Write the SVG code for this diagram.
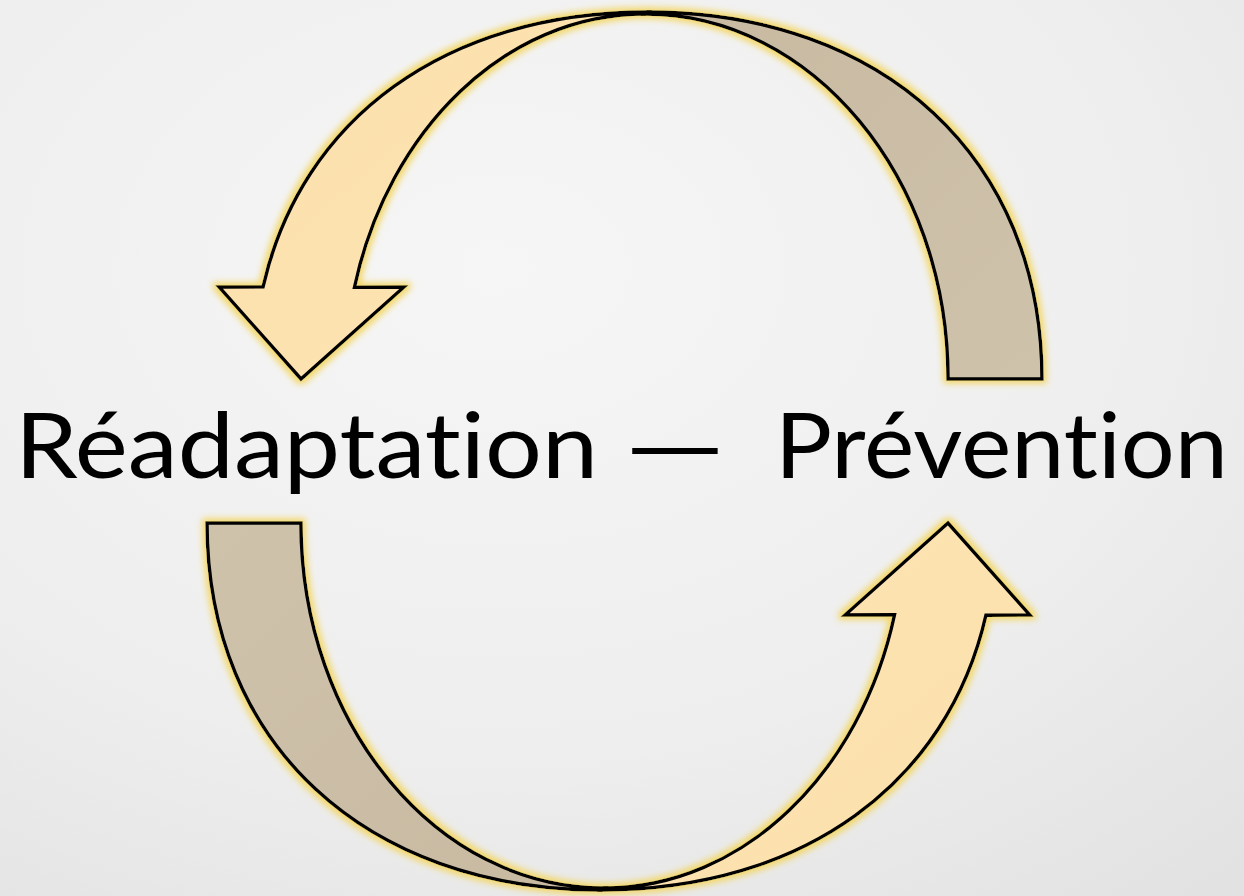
<svg xmlns="http://www.w3.org/2000/svg" width="1244" height="896" viewBox="0 0 1244 896">
  <defs>
    <radialGradient id="bg" cx="0.4" cy="0.3" r="0.9">
      <stop offset="0" stop-color="#f6f6f6"/>
      <stop offset="0.6" stop-color="#eeeeee"/>
      <stop offset="1" stop-color="#e2e2e2"/>
    </radialGradient>
    <linearGradient id="front" x1="0" y1="0" x2="1" y2="1">
      <stop offset="0" stop-color="#fbe0ab"/>
      <stop offset="1" stop-color="#fde4b3"/>
    </linearGradient>
    <linearGradient id="back" x1="0" y1="0" x2="1" y2="1">
      <stop offset="0" stop-color="#c8baa1"/>
      <stop offset="1" stop-color="#cfc2ab"/>
    </linearGradient>
    <filter id="glow" x="-10%" y="-10%" width="120%" height="120%">
      <feMorphology in="SourceAlpha" operator="dilate" radius="3" result="d"/>
      <feGaussianBlur in="d" stdDeviation="3" result="b"/>
      <feFlood flood-color="#f3d767" flood-opacity="0.95"/>
      <feComposite in2="b" operator="in" result="g"/>
      <feMerge>
        <feMergeNode in="g"/>
        <feMergeNode in="SourceGraphic"/>
      </feMerge>
    </filter>
    <g id="arrowShape">
      <path class="back" d="M647.5,12 C884.2,12 1042,158.8 1042,379 L948,379 C948,177.4 812.3,14 645,14 Z"/>
      <path class="front" d="M647.5,12 C445.6,12 301.1,118.8 263,286.8 L219,287 L301,379 L404,287 L354.5,287.3 C388,130.1 505.3,14 645,14 Z"/>
    </g>
  </defs>
  <style>
    .back { fill: url(#back); stroke: #000; stroke-width: 3.4; stroke-linejoin: miter; }
    .front { fill: url(#front); stroke: #000; stroke-width: 3.4; stroke-linejoin: miter; }
    .label { font-family: "Lato", "Open Sans", sans-serif; font-size: 92px; fill: #000; font-variant-ligatures: none; }
  </style>
  <rect x="0" y="0" width="1244" height="896" fill="url(#bg)"/>
  <g id="connectors">
    <g id="arrow-top" filter="url(#glow)">
      <use href="#arrowShape"/>
    </g>
    <g id="arrow-bottom" filter="url(#glow)">
      <use href="#arrowShape" transform="rotate(180 624.5 451)"/>
    </g>
  </g>
  <g id="label">
    <text class="label" y="478"><tspan x="15" textLength="583" lengthAdjust="spacingAndGlyphs">Réadaptation</tspan><tspan> </tspan><tspan x="624" textLength="102" lengthAdjust="spacingAndGlyphs">—</tspan><tspan> </tspan><tspan x="775" textLength="453" lengthAdjust="spacingAndGlyphs">Prévention</tspan></text>
  </g>
</svg>
